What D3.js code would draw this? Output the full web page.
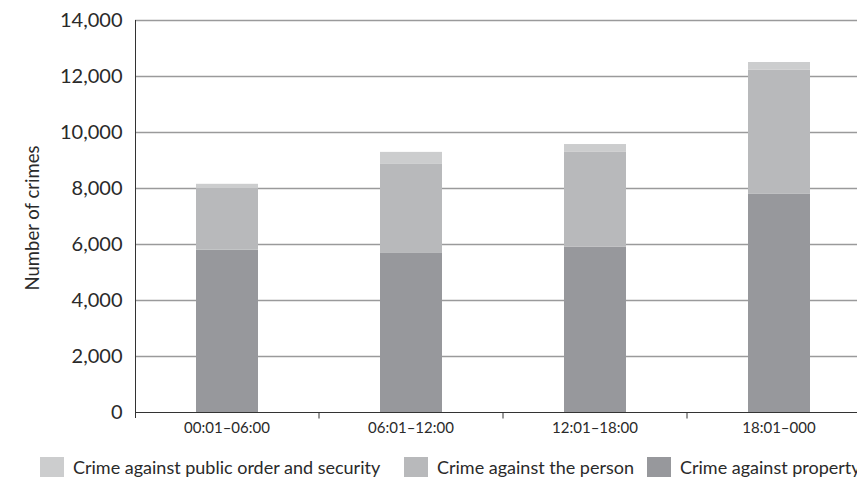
<!DOCTYPE html>
<html><head><meta charset="utf-8">
<script src="https://cdn.jsdelivr.net/npm/d3@7"></script>
<style>body{margin:0;background:#fff}svg{display:block}text{font-family:Lato,"Open Sans",sans-serif;fill:#2a2a2a}</style>
</head><body><svg id="c" width="857" height="477"></svg>
<script>
(function(){
const categories = ["00:01–06:00","06:01–12:00","12:01–18:00","18:01–000"];
const property = [5800, 5680, 5900, 7790];
const person = [2200, 3180, 3390, 4430];
const publicOrder = [150, 430, 280, 280];
const seriesNames = ["Crime against property","Crime against the person","Crime against public order and security"];
const yTicks = [0,2000,4000,6000,8000,10000,12000,14000];
const colors = ["#97989c","#b8b9bb","#cccdce"];

const svg = d3.select("#c");
const left = 135, plotTop = 20, bottom = 412, bandW = 184, pad = 0.663;
const x = d3.scaleBand().domain(categories).range([left, left + bandW*categories.length]).paddingInner(pad).paddingOuter(pad/2);
const y = d3.scaleLinear().domain([0,14000]).range([bottom, plotTop]);

// gridlines
svg.append("g").selectAll("line").data(yTicks.filter(d=>d>0)).join("line")
  .attr("x1", left).attr("x2", 857).attr("y1", d=>y(d)+0.5).attr("y2", d=>y(d)+0.5)
  .attr("stroke","#9a9a9b").attr("stroke-width",1.5);

// stacks
const rows = categories.map((c,i)=>({cat:c, p:property[i], q:person[i], r:publicOrder[i]}));
const stack = d3.stack().keys(["p","q","r"])(rows);
svg.append("g").selectAll("g").data(stack).join("g").attr("fill",(d,i)=>colors[i])
  .selectAll("rect").data(d=>d).join("rect")
  .attr("x", d=>x(d.data.cat)).attr("width", x.bandwidth())
  .attr("y", d=>y(d[1])).attr("height", d=>y(d[0])-y(d[1]));

// y axis
const ya = svg.append("g").attr("transform",`translate(${left+0.5},0)`)
  .call(d3.axisLeft(y).tickValues(yTicks).tickFormat(d3.format(",")).tickSize(0).tickPadding(13));
ya.select(".domain").attr("stroke","#333").attr("d",`M0,${plotTop}V${bottom+6}`);
ya.selectAll("text").style("font-size","20px").attr("fill","#2a2a2a");

// x axis
const xa = svg.append("g").attr("transform",`translate(0,${bottom+0.5})`);
xa.append("line").attr("x1",left).attr("x2",857).attr("stroke","#333");
xa.selectAll("line.t").data(categories.slice(1)).join("line").attr("class","t")
  .attr("x1",d=>x(d)-x.step()*pad/2).attr("x2",d=>x(d)-x.step()*pad/2).attr("y1",0).attr("y2",6).attr("stroke","#333");
xa.selectAll("text").data(categories).join("text")
  .attr("x",d=>x(d)+x.bandwidth()/2).attr("y",20).attr("text-anchor","middle")
  .style("font-size","15px").text(d=>d);

// y label
svg.append("text").attr("transform","translate(39,218) rotate(-90)").attr("text-anchor","middle")
  .style("font-size","18.5px").text("Number of crimes");

// legend
const legend = [
  {name:seriesNames[2], color:colors[2], x:40},
  {name:seriesNames[1], color:colors[1], x:404},
  {name:seriesNames[0], color:colors[0], x:647}
];
const lg = svg.append("g").selectAll("g").data(legend).join("g").attr("transform",d=>`translate(${d.x},457)`);
lg.append("rect").attr("width",24).attr("height",21).attr("fill",d=>d.color);
lg.append("text").attr("x",33).attr("y",17).style("font-size",'18px').text(d=>d.name);
})();
</script></body></html>
